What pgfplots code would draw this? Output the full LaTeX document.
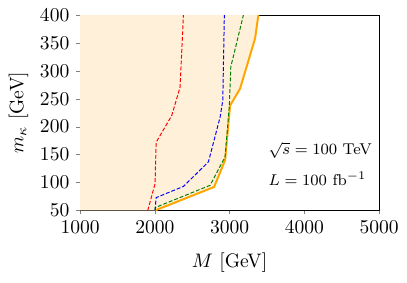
\documentclass[border=0pt]{standalone}
\usepackage{pgfplots}
\pgfplotsset{compat=1.18}
\definecolor{mplorange}{RGB}{255,165,0}
\definecolor{mplgreen}{RGB}{0,128,0}
\definecolor{fillc}{RGB}{255,240,217}
\begin{document}
\begin{tikzpicture}
\begin{axis}[
  scale only axis, width=153pt, height=100pt,
  xmin=1000, xmax=5000, ymin=50, ymax=400,
  xtick={1000,2000,3000,4000,5000},
  ytick={50,100,...,400},
  tick align=outside, tickwidth=2pt,
  xtick pos=bottom, ytick pos=left,
  scaled x ticks=false,
  xticklabel style={/pgf/number format/set thousands separator={}},
  xlabel={$M$ [GeV]}, ylabel={$m_\kappa$ [GeV]},
  xlabel style={at={(axis description cs:0.5,0)}, anchor=center, yshift=-26.5pt},
  ylabel style={at={(axis description cs:0,0.5)}, anchor=center, yshift=31.5pt},
  clip=true,
  axis line style={line width=0.5pt},
  mydash/.style={dash pattern=on 2pt off 1pt, line width=0.5pt},
]
\addplot[draw=none, fill=fillc] coordinates {
 (1000,50) (2003,50) (2793,92) (2940,140) (3007,238) (3140,268) (3341,358) (3385,400) (1000,400)} -- cycle;
\addplot[mplorange, line width=1pt] coordinates {
 (2003,50) (2793,92) (2940,140) (3007,238) (3140,268) (3341,358) (3385,400)};
\addplot[mplgreen, mydash] coordinates {
 (2003,50) (2003,55) (2739,95) (2940,146) (2997,238) (3016,307) (3185,400)};
\addplot[blue, mydash] coordinates {
 (2003,50) (2017,73) (2382,93) (2717,137) (2873,217) (2909,247) (2930,400)};
\addplot[red, mydash] coordinates {
 (1905,50) (2003,98) (2017,172) (2226,220) (2338,271) (2382,400)};
\node[anchor=west, font=\footnotesize] at (axis cs:3430,158) {$\sqrt{s}=100$ TeV};
\node[anchor=west, font=\footnotesize] at (axis cs:3430,107) {$L=100$ fb$^{-1}$};
\end{axis}
\path (current axis.south west) ++(-41pt,-37pt) (current axis.north east) ++(14.3pt,7.7pt);
\end{tikzpicture}
\end{document}
